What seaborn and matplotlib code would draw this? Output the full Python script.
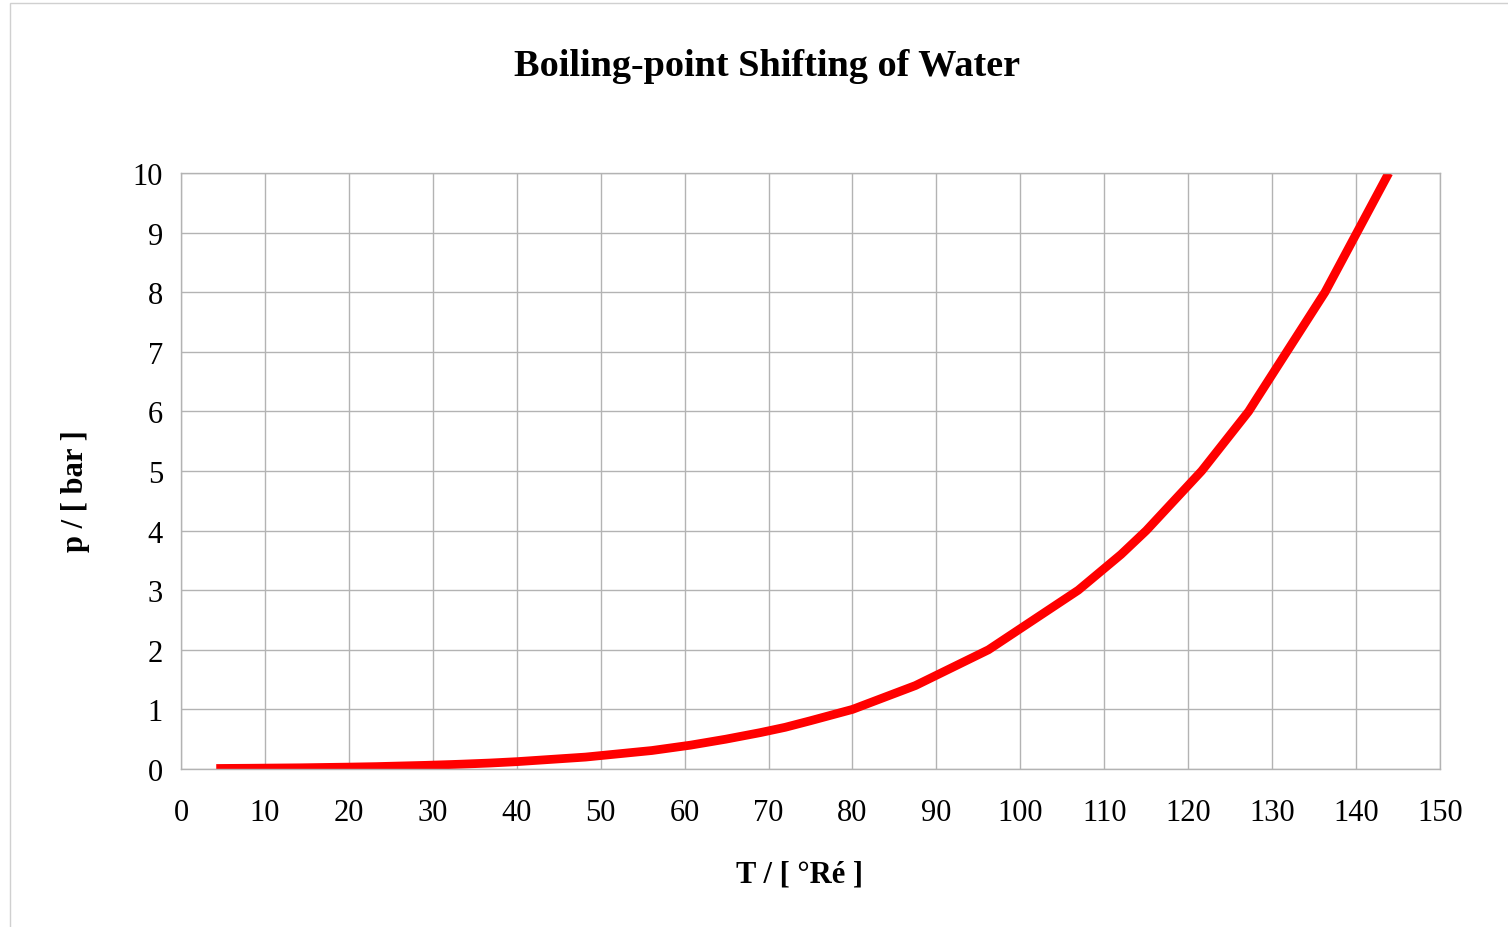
"""
Siedepunktverschiebung von Wasser: Druck gegen Temperatur in Grad Reaumur.
"""

import matplotlib
matplotlib.use("Agg")
import matplotlib.pyplot as plt
from matplotlib.patches import Rectangle
import seaborn as sns
import pandas as pd

# Temperatur in °Ré und zugehoeriger Dampfdruck in bar
temperatur_re = [4.2, 5.8, 8.2, 12.2, 14.2, 16.2, 20.1, 23.3, 24.1, 29.1, 32.2,
                 33.4, 36.8, 40.0, 48.2, 56.1, 60.7, 64.9, 69.0, 72.0, 75.0,
                 80.0, 87.5, 96.2, 106.9, 112.0, 115.0, 121.6, 127.2, 128.1,
                 136.3, 143.9]
druck_bar = [0.0085, 0.0102, 0.0125, 0.0175, 0.02, 0.024, 0.032, 0.04, 0.043,
             0.061, 0.075, 0.081, 0.10, 0.123, 0.20, 0.31, 0.40, 0.50, 0.61,
             0.70, 0.81, 1.0, 1.4, 2.0, 3.0, 3.6, 4.0, 5.0, 6.0, 6.2, 8.0, 10.0]

x_ticks = list(range(0, 151, 10))
y_ticks = list(range(0, 11))

titel = "Boiling-point Shifting of Water"
x_label = "T / [ °Ré ]"
y_label = "p / [ bar ]"

df = pd.DataFrame({"T": temperatur_re, "p": druck_bar})

sns.set_style("whitegrid")
plt.rcParams["font.family"] = ["Liberation Serif", "DejaVu Serif"]
plt.rcParams["text.color"] = "black"

fig = plt.figure(figsize=(15.08, 9.28), dpi=100)
ax = fig.add_axes([181 / 1508, 1 - 770 / 928, (1440 - 181) / 1508, (770 - 174) / 928])

sns.lineplot(data=df, x="T", y="p", color="#ff0000", linewidth=6.3, sort=False,
             ax=ax, solid_capstyle="butt", solid_joinstyle="miter")

ax.set_xlim(0, 150)
ax.set_ylim(0, 10)
ax.set_xticks(x_ticks)
ax.set_yticks(y_ticks)
ax.grid(True, color="#b3b3b3", linewidth=1)
for s in ax.spines.values():
    s.set_color("#b3b3b3")
    s.set_linewidth(1)
ax.tick_params(axis="both", length=7, width=1, color="#b3b3b3",
               labelsize=22, labelcolor="black")
ax.tick_params(axis="x", pad=14)
ax.tick_params(axis="y", pad=6)
ax.set_xlabel("")
ax.set_ylabel("")

# Titel und Achsenbeschriftungen
fig.text(767 / 1508, 1 - 66 / 928, titel, fontsize=27.5, fontweight="bold",
         ha="center", va="center", color="black")
fig.text(799 / 1508, 1 - 875 / 928, x_label, fontsize=22, fontweight="bold",
         ha="center", va="center", color="black")
fig.text(75 / 1508, 1 - 491 / 928, y_label, fontsize=22, fontweight="bold",
         ha="center", va="center", rotation=90, color="black")

# aeusserer Diagrammrahmen
fig.patches.append(Rectangle((10 / 1508, -0.1), 1.2, 1 - 4 / 928 + 0.1,
                             transform=fig.transFigure, fill=False,
                             edgecolor="#d0d0d0", linewidth=1))

plt.savefig("out.png", dpi=100)
